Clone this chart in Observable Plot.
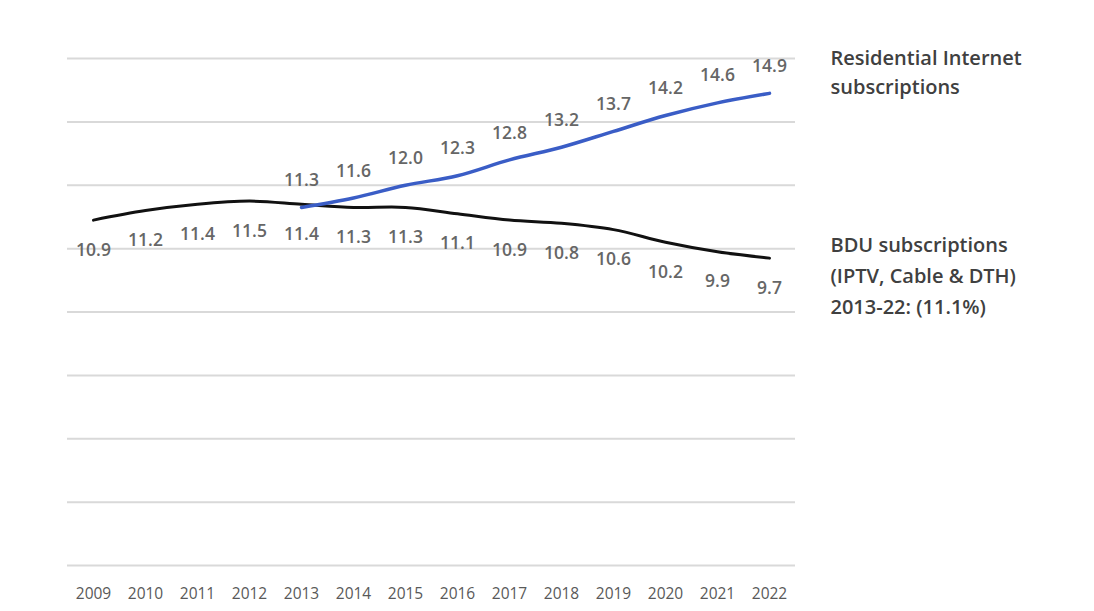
<!DOCTYPE html>
<html>
<head>
<meta charset="utf-8">
<script src="https://cdn.jsdelivr.net/npm/d3@7"></script>
<script src="https://cdn.jsdelivr.net/npm/@observablehq/plot@0.6"></script>
<style>
  html, body { margin: 0; padding: 0; background: #fff; }
  #chart { width: 1094px; height: 611px; }
  svg { font-family: "Open Sans", sans-serif; }
</style>
</head>
<body>
<div id="chart"></div>
<script>
const years = ["2009","2010","2011","2012","2013","2014","2015","2016","2017","2018","2019","2020","2021","2022"];
const bduValues = [10.9, 11.2, 11.4, 11.5, 11.4, 11.3, 11.3, 11.1, 10.9, 10.8, 10.6, 10.2, 9.9, 9.7];
const internetYears = ["2013","2014","2015","2016","2017","2018","2019","2020","2021","2022"];
const internetValues = [11.3, 11.6, 12.0, 12.3, 12.8, 13.2, 13.7, 14.2, 14.6, 14.9];
const yTicks = [0, 2, 4, 6, 8, 10, 12, 14, 16];
const internetLabel = "Residential Internet\nsubscriptions";
const bduLabel = "BDU subscriptions\n(IPTV, Cable & DTH)\n2013-22: (11.1%)";

const bdu = years.map((y, i) => ({year: y, value: bduValues[i]}));
const internet = internetYears.map((y, i) => ({year: y, value: internetValues[i]}));

const labelStyle = {
  fill: "#666",
  fontSize: 17.5,
  fontWeight: 600,
  letterSpacing: "2.2px"
};

const chart = Plot.plot({
  width: 1094,
  height: 611,
  marginLeft: 67,
  marginRight: 299,
  marginTop: 58,
  marginBottom: 46,
  style: {fontFamily: "Open Sans, sans-serif", background: "#fff"},
  x: {type: "point", domain: years, padding: 0.5, label: null},
  y: {domain: [0, 16], ticks: yTicks, label: null, axis: null},
  marks: [
    Plot.ruleY(yTicks, {stroke: "#d9d9d9", strokeWidth: 2}),
    Plot.axisX({tickSize: 0, tickPadding: 22, fontSize: 15.5, fill: "#595959", label: null}),
    Plot.line(bdu, {x: "year", y: "value", stroke: "#111", strokeWidth: 3, curve: "catmull-rom"}),
    Plot.line(internet, {x: "year", y: "value", stroke: "#3a5dc6", strokeWidth: 3.5, curve: "catmull-rom"}),
    Plot.text(bdu, {x: "year", y: "value", text: d => d.value.toFixed(1), dy: 30, ...labelStyle}),
    Plot.text(internet, {x: "year", y: "value", text: d => d.value.toFixed(1), dy: -27, ...labelStyle}),
    Plot.text([internet[internet.length - 1]], {x: "year", y: "value", text: () => internetLabel,
      textAnchor: "start", lineAnchor: "middle", dx: 61, dy: -23, fontSize: 20, fontWeight: 600,
      fill: "#404040", lineHeight: 1.45, letterSpacing: "0.9px"}),
    Plot.text([bdu[bdu.length - 1]], {x: "year", y: "value", text: () => bduLabel,
      textAnchor: "start", lineAnchor: "middle", dx: 61, dy: 15, fontSize: 20, fontWeight: 600,
      fill: "#404040", lineHeight: 1.55, letterSpacing: "0.4px"})
  ]
});
document.getElementById("chart").appendChild(chart);
</script>
</body>
</html>
